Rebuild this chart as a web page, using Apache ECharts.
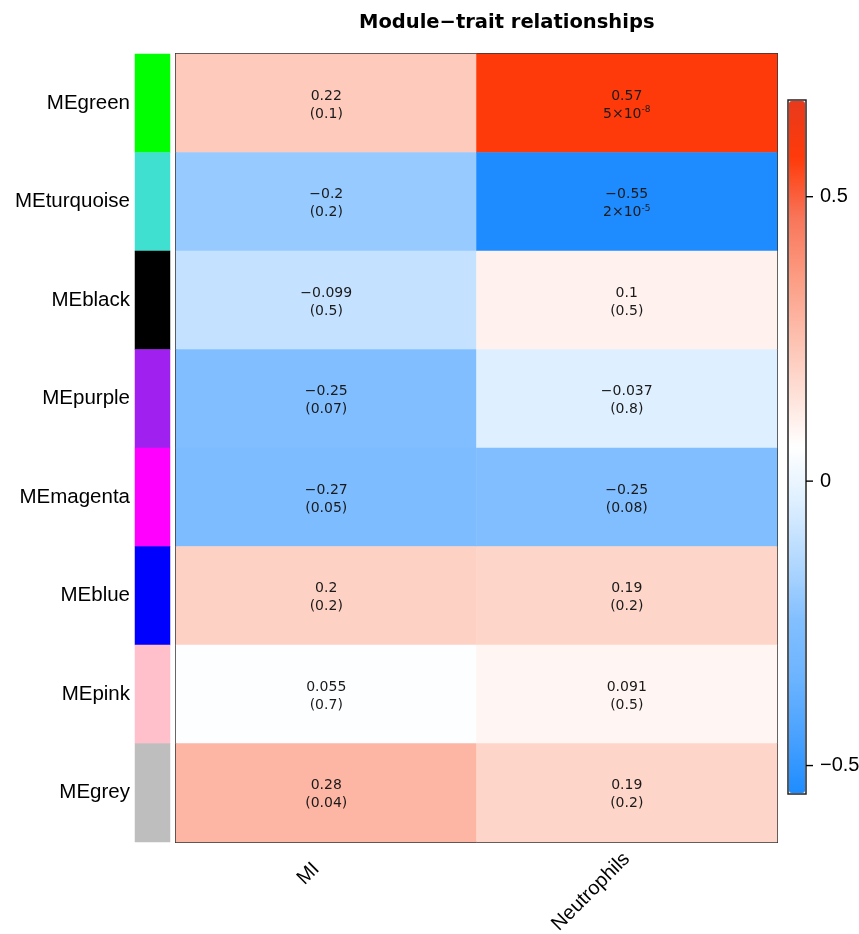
<!DOCTYPE html>
<html>
<head>
<meta charset="utf-8">
<script src="https://cdn.jsdelivr.net/npm/echarts@6/dist/echarts.min.js"></script>
<style>html,body{margin:0;padding:0;background:#fff}#c{width:859px;height:934px}</style>
</head>
<body>
<div id="c"></div>
<script>
const modules = ['MEgreen','MEturquoise','MEblack','MEpurple','MEmagenta','MEblue','MEpink','MEgrey'];
const moduleColors = ['#00FF00','#40E0D0','#000000','#A020F0','#FF00FF','#0000FF','#FFC0CB','#BEBEBE'];
const traits = ['MI','Neutrophils'];
const corMI = [0.22,-0.2,-0.099,-0.25,-0.27,0.2,0.055,0.28];
const corNeutrophils = [0.57,-0.55,0.1,-0.037,-0.25,0.19,0.091,0.19];
const pMI = ['0.1','0.2','0.5','0.07','0.05','0.2','0.7','0.04'];
const pNeutrophils = ['5e-8','2e-5','0.5','0.8','0.08','0.2','0.5','0.2'];
const colorbarTicks = [-0.5, 0, 0.5];
const scaleMin = -0.55, scaleMax = 0.67;
const scaleColors = ['#1E8CFF','#4AA2FF','#6CB4FF','#82BFFF','#B2D8FF','#DCEEFF','#FFFFFF','#FEDED4','#FDBCAB','#FC9A80','#F87458','#FF3A0A','#E83A1C'];

const cors = [corMI, corNeutrophils];
const ps = [pMI, pNeutrophils];
const fmtNum = v => v < 0 ? '\u2212' + String(-v) : String(v);
const fmtP = s => {
  if (s.indexOf('e') >= 0) {
    const [m, e] = s.split('e');
    return m + '\u00d710{sup|' + e + '}';
  }
  return '(' + s + ')';
};
const heatData = [];
traits.forEach((t, xi) => {
  modules.forEach((m, yi) => {
    heatData.push([xi, yi, cors[xi][yi]]);
  });
});
const stripData = modules.map((m, i) => ({ value: [0, i, 0], itemStyle: { color: moduleColors[i] } }));
const traitLabelPadding = { MI: [0, 14, 0, 0], Neutrophils: [0, 0, 0, 0] };
const traitAxisData = traits.map(t => ({ value: t, textStyle: { padding: traitLabelPadding[t] } }));

const chart = echarts.init(document.getElementById('c'), null, { renderer: 'canvas' });
chart.setOption({
  animation: false,
  backgroundColor: '#fff',
  title: {
    text: 'Module\u2212trait relationships',
    left: 354, top: 8,
    textStyle: { fontFamily: 'DejaVu Sans', fontWeight: 'bold', fontSize: 19.5, color: '#000' }
  },
  grid: [
    { left: 176, right: 82, top: 54, bottom: 92, outerBoundsMode: 'none', containLabel: false, show: true, borderColor: '#333', borderWidth: 2, backgroundColor: 'transparent' },
    { left: 135, width: 35, top: 54, bottom: 92, outerBoundsMode: 'none', containLabel: false, show: false },
    { left: 788, width: 18, top: 100, height: 694, outerBoundsMode: 'none', containLabel: false, show: true, borderColor: '#222', borderWidth: 1.5, backgroundColor: 'transparent' }
  ],
  xAxis: [
    { gridIndex: 0, type: 'category', data: traitAxisData, axisLine: { show: false }, axisTick: { show: false }, splitLine: { show: false },
      axisLabel: { rotate: 45, margin: 14, fontSize: 20, fontFamily: 'Liberation Sans', color: '#000' } },
    { gridIndex: 1, type: 'category', data: ['strip'], show: false },
    { gridIndex: 2, type: 'value', show: false, min: 0, max: 1 }
  ],
  yAxis: [
    { gridIndex: 0, type: 'category', data: modules, inverse: true, show: false },
    { gridIndex: 1, type: 'category', data: modules, inverse: true, axisLine: { show: false }, axisTick: { show: false },
      axisLabel: { margin: 5, fontSize: 20.5, fontFamily: 'Liberation Sans', color: '#000' } },
    { gridIndex: 2, type: 'value', min: scaleMin, max: scaleMax, position: 'right', splitLine: { show: false },
      axisLine: { show: false },
      axisTick: { show: false },
      axisLabel: { customValues: colorbarTicks, margin: 0, fontSize: 20, fontFamily: 'Liberation Sans', color: '#000',
        formatter: v => '{tick|}{lab|' + fmtNum(v) + '}',
        rich: {
          tick: { width: 7, height: 1.4, backgroundColor: '#000' },
          lab: { fontSize: 20, fontFamily: 'Liberation Sans', color: '#000', padding: [0, 0, 0, 7] }
        } } }
  ],
  visualMap: {
    type: 'continuous', seriesIndex: 0, dimension: 2,
    min: scaleMin, max: scaleMax, calculable: false, hoverLink: false,
    orient: 'vertical', left: 789, top: 101, itemWidth: 16, itemHeight: 692, padding: 0,
    text: null, showLabel: false,
    inRange: { color: scaleColors }
  },
  series: [
    {
      type: 'heatmap', xAxisIndex: 0, yAxisIndex: 0, data: heatData,
      label: {
        show: true, fontFamily: 'DejaVu Sans', fontSize: 14, lineHeight: 18, color: '#1a1a1a', padding: [4, 0, 0, 0],
        formatter: p => fmtNum(p.data[2]) + '\n' + fmtP(ps[p.data[0]][p.data[1]]),
        rich: { sup: { fontFamily: 'DejaVu Sans', fontSize: 9, lineHeight: 18, verticalAlign: 'top', color: '#1a1a1a' } }
      },
      emphasis: { disabled: true }
    },
    {
      type: 'heatmap', xAxisIndex: 1, yAxisIndex: 1, data: stripData,
      emphasis: { disabled: true }
    }
  ]
});
</script>
</body>
</html>
